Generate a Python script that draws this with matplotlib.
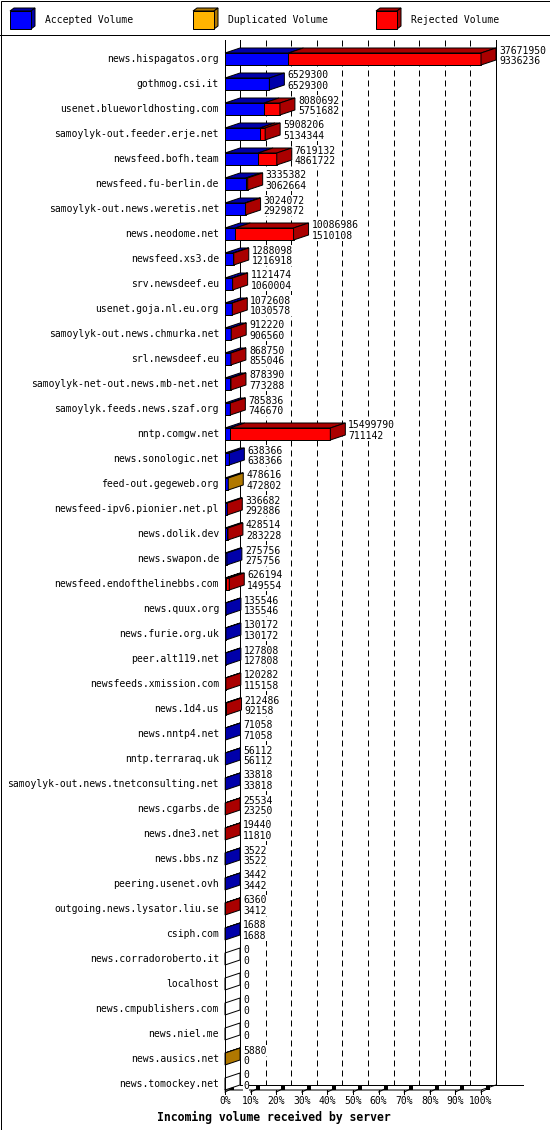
import matplotlib
matplotlib.use("Agg")
import matplotlib.pyplot as plt
from matplotlib.patches import Polygon, Rectangle
import numpy as np

# Serveurs et volumes (octets)
hosts = [
    "news.hispagatos.org", "gothmog.csi.it", "usenet.blueworldhosting.com",
    "samoylyk-out.feeder.erje.net", "newsfeed.bofh.team", "newsfeed.fu-berlin.de",
    "samoylyk-out.news.weretis.net", "news.neodome.net", "newsfeed.xs3.de",
    "srv.newsdeef.eu", "usenet.goja.nl.eu.org", "samoylyk-out.news.chmurka.net",
    "srl.newsdeef.eu", "samoylyk-net-out.news.mb-net.net", "samoylyk.feeds.news.szaf.org",
    "nntp.comgw.net", "news.sonologic.net", "feed-out.gegeweb.org",
    "newsfeed-ipv6.pionier.net.pl", "news.dolik.dev", "news.swapon.de",
    "newsfeed.endofthelinebbs.com", "news.quux.org", "news.furie.org.uk",
    "peer.alt119.net", "newsfeeds.xmission.com", "news.1d4.us", "news.nntp4.net",
    "nntp.terraraq.uk", "samoylyk-out.news.tnetconsulting.net", "news.cgarbs.de",
    "news.dne3.net", "news.bbs.nz", "peering.usenet.ovh",
    "outgoing.news.lysator.liu.se", "csiph.com", "news.corradoroberto.it",
    "localhost", "news.cmpublishers.com", "news.niel.me", "news.ausics.net",
    "news.tomockey.net",
]
offered = [
    37671950, 6529300, 8080692, 5908206, 7619132, 3335382, 3024072, 10086986,
    1288098, 1121474, 1072608, 912220, 868750, 878390, 785836, 15499790,
    638366, 478616, 336682, 428514, 275756, 626194, 135546, 130172, 127808,
    120282, 212486, 71058, 56112, 33818, 25534, 19440, 3522, 3442, 6360, 1688,
    0, 0, 0, 0, 5880, 0,
]
accepted = [
    9336236, 6529300, 5751682, 5134344, 4861722, 3062664, 2929872, 1510108,
    1216918, 1060004, 1030578, 906560, 855046, 773288, 746670, 711142,
    638366, 472802, 292886, 283228, 275756, 149554, 135546, 130172, 127808,
    115158, 92158, 71058, 56112, 33818, 23250, 11810, 3522, 3442, 3412, 1688,
    0, 0, 0, 0, 0, 0,
]
duplicated = [0] * 17 + [5814] + [0] * 22 + [5880, 0]
rejected = [o - a - d for o, a, d in zip(offered, accepted, duplicated)]

series = [
    ("Accepted Volume", accepted, "#0000ff", "#0000aa"),
    ("Duplicated Volume", duplicated, "#ffb400", "#b07800"),
    ("Rejected Volume", rejected, "#ff0000", "#aa0000"),
]

W, H, DPI = 550, 1130, 100
LW = 72 / DPI  # 1 pixel
FONT = "DejaVu Sans Mono"

fig = plt.figure(figsize=(W / DPI, H / DPI), dpi=DPI)

# axe "pixels" pour le cadre et la legende
deco = fig.add_axes([0, 0, 1, 1])
deco.set_xlim(0, W)
deco.set_ylim(H, 0)
deco.axis("off")

# axe des donnees: x en %, y en rangs
ax = fig.add_axes([0, 0, 1, 1])
ax.axis("off")
x0_px, x100_px = 225, 481
row0_px, row_step = 59, 25
ax.set_xlim(-x0_px * 100 / (x100_px - x0_px), (W - x0_px) * 100 / (x100_px - x0_px))
ax.set_ylim((H - row0_px) / row_step, -row0_px / row_step)
px = 100 / (x100_px - x0_px)   # % par pixel
py = 1 / row_step              # rang par pixel
DX, DY = 15 * px, 5 * py
half = 6 * py

n = len(hosts)
vmax = max(offered)
pct = lambda v: np.asarray(v, dtype=float) / vmax * 100

top = -19 * py
floor_f = (n - 1) + half
floor_b = floor_f - DY

# murs, sol et grille
ax.plot([0, 0], [top, floor_f], color="black", lw=LW, zorder=5)
ax.plot([DX, DX], [top, floor_b], color="black", lw=LW, zorder=1)
ax.plot([100 + DX, 100 + DX], [top, floor_b], color="black", lw=LW, zorder=1)
ax.plot([DX, 100 + DX + 27 * px], [floor_b, floor_b], color="black", lw=LW, zorder=1)
ax.plot([0, 100, 100 + DX], [floor_f, floor_f, floor_b], color="black", lw=LW, zorder=1)
for k in range(1, 10):
    ax.plot([10 * k + DX] * 2, [top, floor_b], color="black", lw=LW,
            dashes=(6, 4), zorder=1)
for k in range(11):
    x = 10 * k
    ax.plot([x, x], [floor_f, floor_f + 4 * py], color="black", lw=LW)
    ax.plot([x, x + 6 * px], [floor_f + 2 * py, floor_f - 1 * py], color="black", lw=LW)
    ax.plot([x + 7 * px], [floor_f - 2 * py], marker="s", ms=2.2, color="black", mew=0)
    ax.text(x, floor_f + 11.5 * py, f"{10 * k}%", ha="center", va="center",
            fontsize=7, family=FONT)

# barres 3D
box = dict(facecolor="white", edgecolor="none", pad=0.3)
for i, host in enumerate(hosts):
    c = i
    yt, yb = c - half, c + half
    start = 0.0
    last_dark = "white"
    for name, vals, front, dark in series:
        w = pct(vals[i]).item()
        if w <= 0:
            continue
        ax.add_patch(Rectangle((start, yt), w, 2 * half, facecolor=front,
                               edgecolor="black", lw=LW, zorder=3))
        ax.add_patch(Polygon([(start, yt), (start + w, yt), (start + w + DX, yt - DY),
                              (start + DX, yt - DY)], closed=True, facecolor=dark,
                             edgecolor="black", lw=LW, zorder=3))
        start += w
        last_dark = dark
    ax.add_patch(Polygon([(start, yt), (start + DX, yt - DY), (start + DX, yb - DY),
                          (start, yb)], closed=True, facecolor=last_dark,
                         edgecolor="black", lw=LW, zorder=3))
    ax.text(-6 * px, c, host, ha="right", va="center", fontsize=7, family=FONT)
    ax.text(start + DX + 3 * px, c - 8.5 * py, str(offered[i]), ha="left",
            va="center", fontsize=7, family=FONT, zorder=6, bbox=box)
    ax.text(start + DX + 3 * px, c + 2 * py, str(accepted[i]), ha="left",
            va="center", fontsize=7, family=FONT, zorder=6, bbox=box)

# legende
for j, (name, vals, front, dark) in enumerate(series):
    tx = 45 + 183 * j
    fx = tx - 35
    deco.add_patch(Polygon([(fx, 11), (fx + 4, 8), (fx + 25, 8), (fx + 21, 11)],
                           closed=True, facecolor=dark, edgecolor="black", lw=LW))
    deco.add_patch(Polygon([(fx + 21, 11), (fx + 25, 8), (fx + 25, 26), (fx + 21, 29)],
                           closed=True, facecolor=dark, edgecolor="black", lw=LW))
    deco.add_patch(Rectangle((fx, 11), 21, 18, facecolor=front, edgecolor="black", lw=LW))
    deco.text(tx, 20, name, ha="left", va="center", fontsize=7, family=FONT)

deco.plot([0, W], [34.5, 34.5], color="black", lw=LW)
deco.add_patch(Rectangle((0.5, 0.5), W - 1, H - 1, fill=False, edgecolor="black", lw=LW))
deco.text(274, 1117, "Incoming volume received by server", ha="center", va="center",
          fontsize=8.3, family=FONT, fontweight="bold")

fig.savefig("out.png", dpi=DPI)
